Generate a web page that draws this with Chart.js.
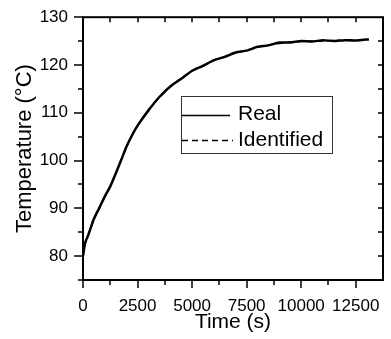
<!DOCTYPE html>
<html lang="en">
<head>
<meta charset="UTF-8">
<title>Temperature vs time</title>
<script src="https://cdn.jsdelivr.net/npm/chart.js"></script>
<style>
    body { margin: 0; background: #fff; }
    #wrap { width: 391px; height: 339px; }
</style>
</head>
<body>
<div id="wrap"><canvas id="chart" width="391" height="339"></canvas></div>
<script>
// data
const timeS = [0, 100, 250, 500, 750, 1000, 1250, 1500, 1750, 2000, 2250, 2500, 3000, 3500, 4000, 4500, 5000,
    5500, 6000, 6500, 7000, 7500, 8000, 8500, 9000, 9500, 10000, 10500, 11000, 11500, 12000, 12500, 13100];
const realC = [80, 82.8, 84.5, 87.8, 90.1, 92.5, 94.6, 97.3, 100.1, 103.0, 105.3, 107.3, 110.5, 113.3, 115.5, 117.1, 118.8,
    119.8, 121.0, 121.7, 122.6, 123.0, 123.8, 124.1, 124.7, 124.7, 125.0, 124.9, 125.2, 125.0, 125.2, 125.1, 125.4];
const identC = [80, 82.6, 84.6, 87.6, 90.2, 92.4, 94.6, 97.2, 100.1, 102.9, 105.3, 107.2, 110.6, 113.2, 115.4, 117.2, 118.7,
    119.9, 120.9, 121.8, 122.5, 123.1, 123.7, 124.2, 124.5, 124.8, 124.9, 125.0, 125.0, 125.1, 125.1, 125.2, 125.3];
const seriesNames = ['Real', 'Identified'];
const xMajor = 2500, xMinor = 1250;
const yMajor = 10, yMinor = 5;

const FONT = "'Liberation Sans', Arial, sans-serif";

// frame + ticks on all four sides (bottom/left outward, top/right inward)
const framePlugin = {
    id: 'frame',
    afterDraw(chart) {
        const { ctx, chartArea: a, scales } = chart;
        ctx.save();
        ctx.strokeStyle = '#000';
        ctx.lineWidth = 2;
        ctx.strokeRect(a.left, a.top, a.right - a.left, a.bottom - a.top);
        ctx.lineWidth = 1.5;
        ctx.beginPath();
        scales.x.ticks.forEach(t => {
            if (t.value >= scales.x.max) return;
            const px = Math.round(scales.x.getPixelForValue(t.value));
            const len = t.value % xMajor === 0 ? 8 : 5;
            ctx.moveTo(px, a.bottom); ctx.lineTo(px, a.bottom + len);
            ctx.moveTo(px, a.top); ctx.lineTo(px, a.top + 5);
        });
        scales.y.ticks.forEach(t => {
            const py = Math.round(scales.y.getPixelForValue(t.value));
            const len = t.value % yMajor === 0 ? 9 : 5;
            ctx.moveTo(a.left - len, py); ctx.lineTo(a.left, py);
            if (t.value < scales.y.max && t.value > scales.y.min) {
                ctx.moveTo(a.right - 5, py); ctx.lineTo(a.right, py);
            }
        });
        ctx.stroke();
        ctx.restore();
    }
};

// boxed legend inside the plot
const legendPlugin = {
    id: 'boxLegend',
    afterDraw(chart) {
        const { ctx, chartArea: a } = chart;
        const x0 = a.left + 98, y0 = 96, w = 151, h = 57;
        ctx.save();
        ctx.strokeStyle = '#333';
        ctx.lineWidth = 1;
        ctx.strokeRect(x0 + 0.5, y0 + 0.5, w, h);
        ctx.strokeStyle = '#000';
        ctx.lineWidth = 1.5;
        ctx.beginPath();
        ctx.moveTo(x0 + 1, 115.5); ctx.lineTo(x0 + 49, 115.5);
        ctx.stroke();
        ctx.setLineDash([6, 4]);
        ctx.beginPath();
        ctx.moveTo(x0 + 1, 140.5); ctx.lineTo(x0 + 52, 140.5);
        ctx.stroke();
        ctx.setLineDash([]);
        ctx.fillStyle = '#000';
        ctx.font = '21px ' + FONT;
        ctx.textBaseline = 'middle';
        ctx.fillText(seriesNames[0], x0 + 57, 114);
        ctx.fillText(seriesNames[1], x0 + 57, 140);
        ctx.restore();
    }
};

new Chart(document.getElementById('chart'), {
    type: 'line',
    data: {
        datasets: [{
            label: seriesNames[0],
            data: timeS.map((t, i) => ({ x: t, y: realC[i] })),
            borderColor: '#000',
            borderWidth: 2.5,
            pointRadius: 0,
            tension: 0.2
        }, {
            label: seriesNames[1],
            data: timeS.map((t, i) => ({ x: t, y: identC[i] })),
            borderColor: '#000',
            borderWidth: 1.5,
            borderDash: [6, 4],
            pointRadius: 0,
            tension: 0.3
        }]
    },
    options: {
        responsive: false,
        animation: false,
        devicePixelRatio: 1,
        layout: { padding: { left: 0, right: 1, top: 14, bottom: 0 } },
        plugins: { legend: { display: false }, tooltip: { enabled: false } },
        scales: {
            x: {
                type: 'linear',
                min: 0,
                max: 13750,
                afterFit: s => { s.height = 59; },
                grid: { display: false },
                border: { display: false },
                ticks: {
                    stepSize: xMinor,
                    autoSkip: false,
                    maxRotation: 0,
                    padding: 8,
                    color: '#000',
                    font: { family: FONT, size: 17 },
                    callback: v => (v % xMajor === 0 ? v : '')
                },
                title: {
                    display: true,
                    text: 'Time (s)',
                    color: '#000',
                    font: { family: FONT, size: 21 },
                    padding: { top: 0, bottom: 4 }
                }
            },
            y: {
                min: 75,
                max: 130,
                afterFit: s => { s.width = 83; },
                grid: { display: false },
                border: { display: false },
                ticks: {
                    stepSize: yMinor,
                    autoSkip: false,
                    padding: 7,
                    color: '#000',
                    font: { family: FONT, size: 17 },
                    callback: v => (v % yMajor === 0 ? v : '')
                },
                title: {
                    display: true,
                    text: 'Temperature (°C)',
                    color: '#000',
                    font: { family: FONT, size: 22 },
                    padding: { top: 12, bottom: 0 }
                }
            }
        }
    },
    plugins: [framePlugin, legendPlugin]
});
</script>
</body>
</html>
